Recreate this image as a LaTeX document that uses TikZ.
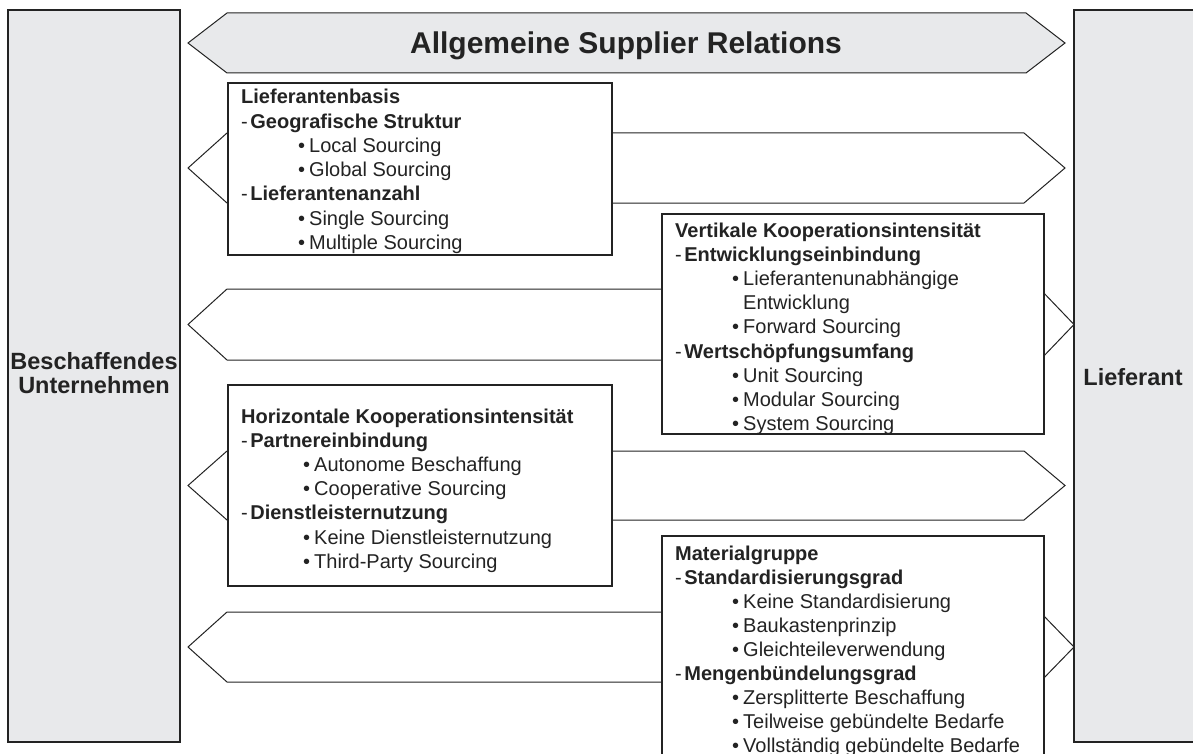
\documentclass[tikz,border=0pt]{standalone}
\usepackage{fontspec}
\setmainfont{Liberation Sans}
\definecolor{panelgray}{RGB}{232,233,235}
\definecolor{ink}{RGB}{35,35,35}
\newcommand\hdline[1]{\textbf{#1}}
\newcommand\dashline[1]{-\hspace{2.5pt}\textbf{#1}}
\newcommand\bulline[1]{\textbullet\hspace{4pt}#1}
\begin{document}
\begin{tikzpicture}[x=1pt,y=-1pt,
  panel/.style={draw=ink,line width=1.1pt,fill=panelgray},
  flow/.style={draw=ink,line width=1pt,fill=white,line join=miter},
  banner/.style={flow,fill=panelgray},
  card/.style={draw=ink,line width=1.2pt,fill=white},
  txt/.style={anchor=base west,inner sep=0pt,text=ink,font=\fontsize{20}{24}\selectfont},
  side/.style={anchor=base,inner sep=0pt,text=ink,font=\fontsize{23.5}{27}\selectfont\bfseries},
  title/.style={anchor=base,inner sep=0pt,text=ink,font=\fontsize{30}{34}\selectfont\bfseries}]
\useasboundingbox (0,0) rectangle (1193,754);
\clip (0,0) rectangle (1193,754);

% side panels
\draw[panel] (8,10) rectangle (180,742);
\draw[panel] (1074,10) rectangle (1200,742);
\node[side] (buyer1) at (94,369) {Beschaffendes};
\node[side] (buyer2) at (94,393) {Unternehmen};
\node[side] (supplier) at (1133,385) {Lieferant};

% top banner
\draw[banner] (188,43) -- (227,13) -- (1026,13) -- (1065,43) -- (1026,73) -- (227,73) -- cycle;
\node[title] (head) at (626,54) {Allgemeine Supplier Relations};

% double-headed flow arrows
\draw[flow] (188,168) -- (227,133) -- (1024,133) -- (1065,168) -- (1024,203) -- (227,203) -- cycle;
\draw[flow] (188,324.5) -- (227,289) -- (1040,289) -- (1074,324.5) -- (1040,360) -- (227,360) -- cycle;
\draw[flow] (188,485.5) -- (227,451) -- (1024,451) -- (1065,485.5) -- (1024,520) -- (227,520) -- cycle;
\draw[flow] (188,647) -- (227,612) -- (1040,612) -- (1074,647) -- (1040,682) -- (227,682) -- cycle;

% box 1
\draw[card] (228,83) rectangle (612,255);
\node[txt] (b1a) at (241,104)   {\hdline{Lieferantenbasis}};
\node[txt] (b1b) at (241,128.2) {\dashline{Geografische Struktur}};
\node[txt] (b1c) at (298,152.4) {\bulline{Local Sourcing}};
\node[txt] (b1d) at (298,176.6) {\bulline{Global Sourcing}};
\node[txt] (b1e) at (241,200.8) {\dashline{Lieferantenanzahl}};
\node[txt] (b1f) at (298,225)   {\bulline{Single Sourcing}};
\node[txt] (b1g) at (298,249.2) {\bulline{Multiple Sourcing}};

% box 2
\draw[card] (662,214) rectangle (1044,434);
\node[txt] (b2a) at (675,237)   {\hdline{Vertikale Kooperationsintensität}};
\node[txt] (b2b) at (675,261.2) {\dashline{Entwicklungseinbindung}};
\node[txt] (b2c) at (732,285.4) {\bulline{Lieferantenunabhängige}};
\node[txt] (b2d) at (732,309.6) {\phantom{\textbullet}\hspace{4pt}Entwicklung};
\node[txt] (b2e) at (732,333.8) {\bulline{Forward Sourcing}};
\node[txt] (b2f) at (675,358)   {\dashline{Wertschöpfungsumfang}};
\node[txt] (b2g) at (732,382.2) {\bulline{Unit Sourcing}};
\node[txt] (b2h) at (732,406.4) {\bulline{Modular Sourcing}};
\node[txt] (b2i) at (732,430.6) {\bulline{System Sourcing}};

% box 3
\draw[card] (228,385) rectangle (612,586);
\node[txt] (b3a) at (241,423)   {\hdline{Horizontale Kooperationsintensität}};
\node[txt] (b3b) at (241,447.2) {\dashline{Partnereinbindung}};
\node[txt] (b3c) at (303,471.4) {\bulline{Autonome Beschaffung}};
\node[txt] (b3d) at (303,495.6) {\bulline{Cooperative Sourcing}};
\node[txt] (b3e) at (241,519.8) {\dashline{Dienstleisternutzung}};
\node[txt] (b3f) at (303,544)   {\bulline{Keine Dienstleisternutzung}};
\node[txt] (b3g) at (303,568.2) {\bulline{Third-Party Sourcing}};

% box 4
\draw[card] (662,536) rectangle (1044,780);
\node[txt] (b4a) at (675,560) {\hdline{Materialgruppe}};
\node[txt] (b4b) at (675,584) {\dashline{Standardisierungsgrad}};
\node[txt] (b4c) at (732,608) {\bulline{Keine Standardisierung}};
\node[txt] (b4d) at (732,632) {\bulline{Baukastenprinzip}};
\node[txt] (b4e) at (732,656) {\bulline{Gleichteileverwendung}};
\node[txt] (b4f) at (675,680) {\dashline{Mengenbündelungsgrad}};
\node[txt] (b4g) at (732,704) {\bulline{Zersplitterte Beschaffung}};
\node[txt] (b4h) at (732,728) {\bulline{Teilweise gebündelte Bedarfe}};
\node[txt] (b4i) at (732,752) {\bulline{Vollständig gebündelte Bedarfe}};
\end{tikzpicture}
\end{document}
